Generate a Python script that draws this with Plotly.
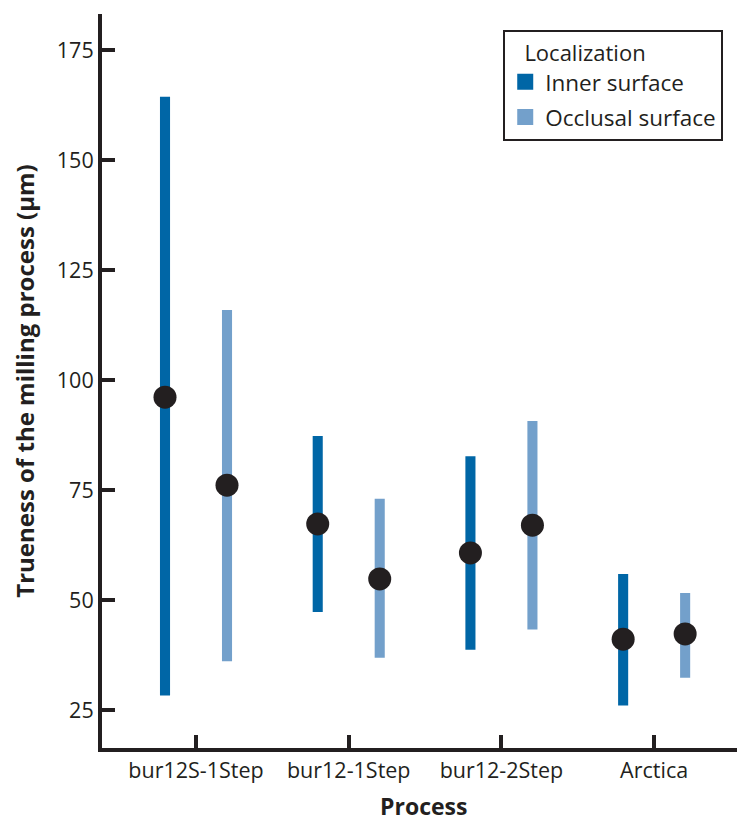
import plotly.graph_objects as go

processes = ["bur12S-1Step", "bur12-1Step", "bur12-2Step", "Arctica"]
localizations = ["Inner surface", "Occlusal surface"]

inner_mean = [96.1, 67.3, 60.7, 41.1]
inner_low = [28.3, 47.3, 38.7, 26.0]
inner_high = [164.4, 87.3, 82.7, 55.9]

occl_mean = [76.1, 54.8, 67.0, 42.3]
occl_low = [36.1, 36.9, 43.3, 32.3]
occl_high = [115.9, 73.0, 90.7, 51.6]

y_ticks = [25, 50, 75, 100, 125, 150, 175]

colors = {"Inner surface": "#0066A6", "Occlusal surface": "#73A0CB"}
dark = "#231F20"
font_family = "'Open Sans', Lato, sans-serif"

series = {
    "Inner surface": (inner_mean, inner_low, inner_high, -0.203),
    "Occlusal surface": (occl_mean, occl_low, occl_high, 0.203),
}

fig = go.Figure()
for name, (mean, low, high, off) in series.items():
    xs = [i + off for i in range(len(processes))]
    fig.add_trace(go.Bar(
        x=xs, y=[h - l for h, l in zip(high, low)], base=low,
        width=0.066, marker=dict(color=colors[name], line=dict(width=0)),
        showlegend=False, legendgroup=name, hoverinfo="skip",
    ))
for name, (mean, low, high, off) in series.items():
    xs = [i + off for i in range(len(processes))]
    fig.add_trace(go.Scatter(
        x=xs, y=mean, mode="markers",
        marker=dict(color=dark, size=23, line=dict(width=0)),
        showlegend=False, legendgroup=name,
    ))
# legend entries
for name in localizations:
    fig.add_trace(go.Scatter(
        x=[None], y=[None], mode="markers", name=name, legendgroup=name,
        marker=dict(symbol="square", size=16, color=colors[name]),
    ))

fig.update_layout(
    width=737, height=815,
    margin=dict(l=94, r=0, t=6, b=75),
    paper_bgcolor="white", plot_bgcolor="white",
    font=dict(family=font_family, size=20, color=dark),
    barmode="overlay",
    legend=dict(
        title=dict(text="\u00a0\u00a0\u00a0Localization", font=dict(size=22, color=dark)),
        x=0.624, y=0.978, xanchor="left", yanchor="top",
        bordercolor=dark, borderwidth=2, bgcolor="white",
        font=dict(size=22.5, color=dark),
        itemsizing="trace", tracegroupgap=3,
        entrywidth=180, entrywidthmode="pixels",
    ),
    xaxis=dict(
        range=[-0.6156, 3.595],
        tickvals=list(range(len(processes))), ticktext=processes,
        ticks="inside", ticklen=13, tickwidth=4, tickcolor=dark,
        showline=True, linewidth=4, linecolor=dark,
        showgrid=False, zeroline=False,
        tickfont=dict(size=21.5, color=dark),
    ),
    yaxis=dict(
        range=[16.36, 183.2],
        tickvals=y_ticks,
        ticks="inside", ticklen=13, tickwidth=4, tickcolor=dark,
        showline=True, linewidth=4, linecolor=dark,
        showgrid=False, zeroline=False,
        ticklabelstandoff=0,
        title=dict(text="<b>Trueness of the milling process (μm)</b>", font=dict(size=24, color=dark), standoff=20),
        tickfont=dict(size=21.5, color=dark),
    ),
    annotations=[dict(
        text="<b>Process</b>", xref="paper", yref="paper", x=0.5, y=-0.079,
        xanchor="center", yanchor="middle", showarrow=False,
        font=dict(size=23, color=dark),
    )],
)

fig.write_html("out.html")
